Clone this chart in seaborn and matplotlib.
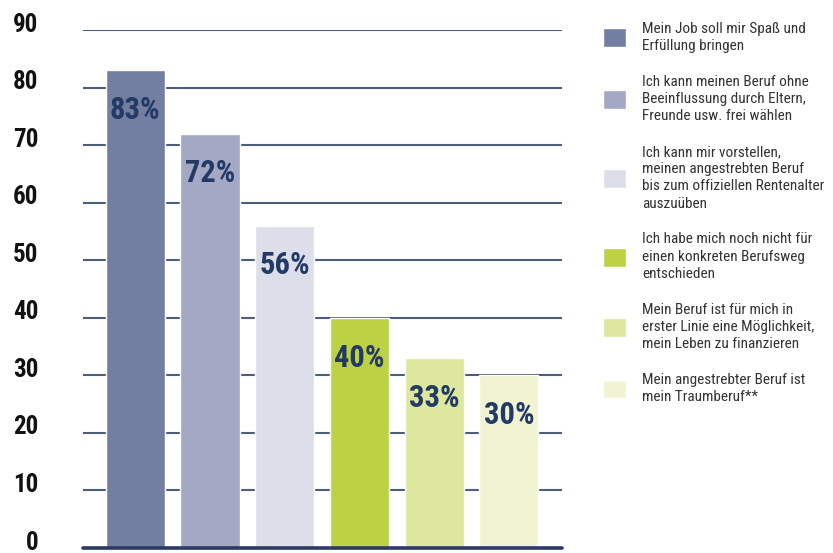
import matplotlib
matplotlib.use("Agg")
import matplotlib.transforms as mtransforms
import seaborn as sns
import pandas as pd
from matplotlib import pyplot as plt

# Daten
answers = [
    "Mein Job soll mir Spaß und\nErfüllung bringen",
    "Ich kann meinen Beruf ohne\nBeeinflussung durch Eltern,\nFreunde usw. frei wählen",
    "Ich kann mir vorstellen,\nmeinen angestrebten Beruf\nbis zum offiziellen Rentenalter\nauszuüben",
    "Ich habe mich noch nicht für\neinen konkreten Berufsweg\nentschieden",
    "Mein Beruf ist für mich in\nerster Linie eine Möglichkeit,\nmein Leben zu finanzieren",
    "Mein angestrebter Beruf ist\nmein Traumberuf**",
]
percent = [83, 72, 56, 40, 33, 30]
colors = ["#737fa0", "#a4a8c5", "#dcdeea", "#bcd144", "#dde79d", "#f1f4d3"]
yticks = [0, 10, 20, 30, 40, 50, 60, 70, 80, 90]

df = pd.DataFrame({"answer": answers, "percent": percent})

sns.set_style("white")
plt.rcParams["font.family"] = ["Roboto Condensed", "Archivo Narrow", "Liberation Sans", "DejaVu Sans"]

fig = plt.figure(figsize=(8.33, 5.53), dpi=100)
ax = fig.add_axes([0.0996, 0.009, 0.575, 0.9367])

# Gitterlinien
for t in yticks[1:]:
    ax.axhline(t, color="#4f5d7c", linewidth=1.5, zorder=0)

sns.barplot(data=df, x="answer", y="percent", hue="answer",
            palette=colors, width=0.79, saturation=1, legend=True, ax=ax, zorder=2)

ax.axhline(0, color="#2b3a66", linewidth=2.6, zorder=3, clip_on=False)

# Prozent-Beschriftung in den Balken
for i, v in enumerate(percent):
    ax.text(i, v - 6.9, f"{v}%", ha="center", va="center",
            fontsize=22, fontweight="bold", color="#233a66", zorder=4)

ax.set_xlim(-0.70, 5.71)
ax.set_ylim(0, 90)
ax.set_yticks(yticks)
ax.set_yticklabels([str(t) for t in yticks], fontsize=18, fontweight="bold", color="#111111")
ax.tick_params(axis="y", length=0, pad=32)
offset = mtransforms.ScaledTranslation(0, 8 / 100, fig.dpi_scale_trans)
for lab in ax.get_yticklabels():
    lab.set_transform(lab.get_transform() + offset)
ax.set_xticks([])
ax.set_xlabel("")
ax.set_ylabel("")
sns.despine(ax=ax, left=True, bottom=True)

leg = ax.legend(loc="upper left", bbox_to_anchor=(0.724, 0.961),
                bbox_transform=fig.transFigure, frameon=False,
                fontsize=11, handlelength=1.5, handleheight=1.5,
                handletextpad=1.05, labelspacing=1.42, borderpad=0, borderaxespad=0)
for txt in leg.get_texts():
    txt.set_color("#333333")
    txt.set_linespacing(1.3)

fig.savefig("out.png", dpi=100)
